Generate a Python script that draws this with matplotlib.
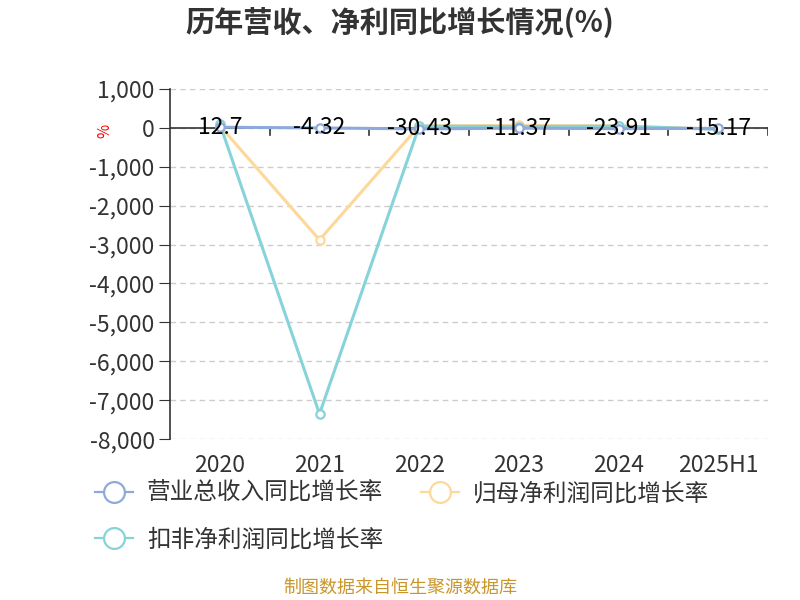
import matplotlib.pyplot as plt
from matplotlib.lines import Line2D

plt.rcParams['font.family'] = ['Noto Sans CJK SC', 'DejaVu Sans']

years = ['2020', '2021', '2022', '2023', '2024', '2025H1']
revenue = [12.7, -4.32, -30.43, -11.37, -23.91, -15.17]
net_profit = [50, -2880, 50, 60, 50, -40]
deducted = [100, -7350, 40, 30, 40, -40]

names = ['营业总收入同比增长率', '归母净利润同比增长率', '扣非净利润同比增长率']
colors = ['#8eaadb', '#fdd89a', '#86d3d9']

fig = plt.figure(figsize=(8, 6), dpi=100)
ax = fig.add_axes([0.2125, 0.268, 0.7475, 0.584])

x = list(range(len(years)))
for vals, c, z in zip([revenue, net_profit, deducted], colors, [4, 3, 3]):
    ax.plot(x, vals, color=c, lw=2.2, marker='o', ms=6, mfc='white', mec=c, mew=1.6, zorder=z)

for i, v in enumerate(revenue):
    ax.text(i, v, f'{v:g}', ha='center', va='center', fontsize=16.5, color='black', zorder=6)

ax.set_xlim(-0.5, len(years) - 0.5)
ax.set_ylim(-8000, 1000)
ax.set_yticks(range(-8000, 1001, 1000))
ax.set_yticklabels([f'{v:,}' for v in range(-8000, 1001, 1000)], fontsize=16.5, color='#333333')
ax.yaxis.grid(True, ls=(0, (4, 3)), color='#cccccc', lw=1)
ax.set_axisbelow(True)

for s in ['top', 'right', 'bottom']:
    ax.spines[s].set_visible(False)
ax.spines['left'].set_color('#333333')
ax.spines['left'].set_linewidth(1.2)
ax.tick_params(axis='y', length=8, color='#333333', pad=3)

# x axis drawn at zero
ax.axhline(0, color='#333333', lw=1.2, zorder=2)
ax.set_xticks([])
for b in [i + 0.5 for i in range(len(years))]:
    ax.plot([b, b], [0, -180], color='#333333', lw=1.2, zorder=2)
for i, y in enumerate(years):
    ax.text(i, -8380, y, ha='center', va='top', fontsize=16.5, color='#333333')

fig.text(0.131, 0.782, '%', color='red', fontsize=11, ha='center', va='center', rotation=90)

fig.text(0.5, 0.962, '历年营收、净利同比增长情况(%)', ha='center', va='center',
         fontsize=21, fontweight='bold', color='#333333')
fig.text(0.5, 0.02, '制图数据来自恒生聚源数据库', ha='center', va='center',
         fontsize=13, color='#c9962a')

handles = [Line2D([], [], color=c, lw=1.6, marker='o', ms=15, mfc='white', mec=c, mew=1.6)
           for c in colors]
order = [0, 2, 1]
fig.legend([handles[i] for i in order], [names[i] for i in order], ncol=2,
           loc='upper left', bbox_to_anchor=(0.092, 0.232), frameon=False,
           fontsize=17, handlelength=1.6, columnspacing=1.6, labelspacing=1.0,
           handletextpad=0.6, labelcolor='#333333')

fig.savefig('out.png', dpi=100)
